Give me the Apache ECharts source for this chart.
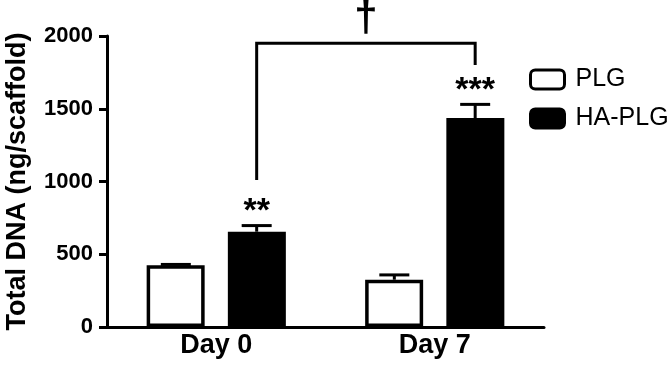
<!DOCTYPE html>
<html>
<head>
<meta charset="utf-8">
<script src="https://cdn.jsdelivr.net/npm/echarts@6/dist/echarts.min.js"></script>
<style>
    html, body {margin: 0; padding: 0; background: #fff;}
    #chart {width: 669px; height: 368px;}
</style>
</head>
<body>
<div id="chart"></div>
<script>
// values
const categories = ['Day 0', 'Day 7'];
const plg = [425, 325];
const plgErr = [5, 33];
const haPlg = [655, 1436];
const haPlgErr = [42, 94];
const stars = ['**', '***'];
const starLevels = [795, 1625];
const bracketLevels = [1010, 1950, 1800]; // left foot, top, right foot
const daggerLevel = 1985;
const yTicks = [0, 500, 1000, 1500, 2000];

const FONT = 'Liberation Sans, Arial, sans-serif';
const SHIFT = 0.185; // bar centre offset as a share of the category band

let chart = echarts.init(document.getElementById('chart'));

function errorBars(sign) {
    return function (params, api) {
        let band = api.size([1, 0])[0];
        let dx = sign * band * SHIFT;
        let p0 = api.coord([api.value(0), api.value(1)]);
        let p1 = api.coord([api.value(0), api.value(1) + api.value(2)]);
        let x = p0[0] + dx;
        return {
            type: 'group',
            children: [
                {type: 'line', shape: {x1: x, y1: p0[1], x2: x, y2: p1[1]}, style: {stroke: '#000', lineWidth: 3}},
                {type: 'line', shape: {x1: x - 15, y1: p1[1], x2: x + 15, y2: p1[1]}, style: {stroke: '#000', lineWidth: 3}}
            ]
        };
    };
}

chart.setOption({
    backgroundColor: '#fff',
    animation: false,
    grid: {left: 107, right: 125, top: 36, bottom: 41, outerBoundsMode: 'none', containLabel: false},
    legend: {
        orient: 'vertical',
        left: 524,
        top: 62,
        itemWidth: 34,
        itemHeight: 19,
        itemGap: 14,
        data: ['PLG', 'HA-PLG'],
        itemStyle: {borderWidth: 3},
        textStyle: {fontFamily: FONT, fontSize: 25, color: '#000', padding: [0, 0, 0, 6]}
    },
    xAxis: {
        type: 'category',
        data: categories,
        axisLine: {lineStyle: {color: '#000', width: 3}},
        axisTick: {alignWithLabel: true, length: 8, lineStyle: {color: '#000', width: 3}},
        axisLabel: {fontFamily: FONT, fontSize: 27, fontWeight: 'bold', color: '#000', margin: 5}
    },
    yAxis: {
        type: 'value',
        min: yTicks[0],
        max: yTicks[yTicks.length - 1],
        interval: 500,
        name: 'Total DNA (ng/scaffold)',
        nameLocation: 'middle',
        nameGap: 76,
        nameTextStyle: {fontFamily: FONT, fontSize: 27, fontWeight: 'bold', color: '#000'},
        axisLine: {show: true, lineStyle: {color: '#000', width: 3}},
        axisTick: {show: true, length: 8, lineStyle: {color: '#000', width: 3}},
        axisLabel: {fontFamily: FONT, fontSize: 22, fontWeight: 'bold', color: '#000', margin: 14,
            formatter: v => String(v)},
        splitLine: {show: false}
    },
    series: [
        {
            name: 'PLG',
            type: 'bar',
            data: plg,
            barWidth: 58,
            barGap: '40%',
            itemStyle: {color: '#fff', borderColor: '#000', borderWidth: 3.5}
        },
        {
            name: 'HA-PLG',
            type: 'bar',
            data: haPlg,
            barWidth: 58,
            barGap: '40%',
            itemStyle: {color: '#000', borderColor: '#000', borderWidth: 3.5}
        },
        {
            type: 'custom',
            z: 5,
            renderItem: errorBars(-1),
            data: plg.map((v, i) => [i, v, plgErr[i]])
        },
        {
            type: 'custom',
            z: 5,
            renderItem: errorBars(1),
            data: haPlg.map((v, i) => [i, v, haPlgErr[i]])
        },
        {
            // significance stars above HA-PLG bars
            type: 'custom',
            z: 6,
            renderItem: function (params, api) {
                let band = api.size([1, 0])[0];
                let p = api.coord([api.value(0), api.value(1)]);
                return {
                    type: 'text',
                    x: p[0] + band * SHIFT,
                    y: p[1],
                    style: {
                        text: stars[params.dataIndex],
                        font: 'bold 34px ' + FONT,
                        fill: '#000',
                        align: 'center',
                        verticalAlign: 'middle'
                    }
                };
            },
            data: starLevels.map((v, i) => [i, v])
        },
        {
            // bracket between HA-PLG bars with dagger
            type: 'custom',
            z: 6,
            renderItem: function (params, api) {
                let band = api.size([1, 0])[0];
                let a = api.coord([0, bracketLevels[0]]);
                let b = api.coord([0, bracketLevels[1]]);
                let c = api.coord([1, bracketLevels[1]]);
                let d = api.coord([1, bracketLevels[2]]);
                let dx = band * SHIFT;
                let m = api.coord([0, daggerLevel]);
                return {
                    type: 'group',
                    children: [
                        {
                            type: 'polyline',
                            shape: {points: [[a[0] + dx, a[1]], [b[0] + dx, b[1]], [c[0] + dx, c[1]], [d[0] + dx, d[1]]]},
                            style: {stroke: '#000', lineWidth: 3, fill: null}
                        },
                        {
                            type: 'text',
                            x: (b[0] + c[0]) / 2 + dx,
                            y: m[1] + 2,
                            style: {text: '\u2020', font: 'bold 42px ' + FONT, fill: '#000', align: 'center', verticalAlign: 'bottom'}
                        }
                    ]
                };
            },
            data: [[0, 0]]
        }
    ]
});
</script>
</body>
</html>
